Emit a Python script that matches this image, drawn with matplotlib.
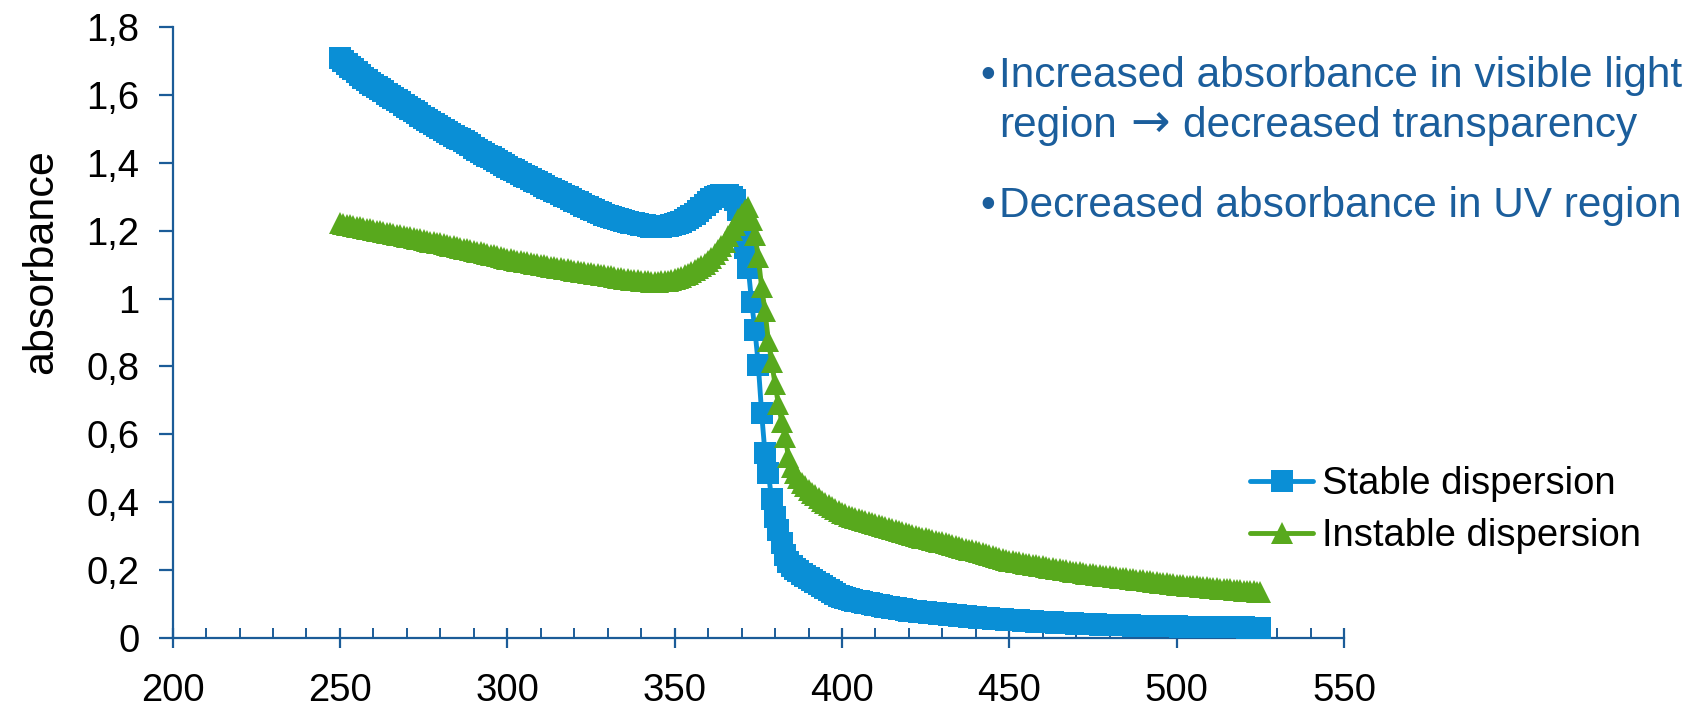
import numpy as np
import matplotlib
matplotlib.use("Agg")
import matplotlib.pyplot as plt
from matplotlib.ticker import MultipleLocator, FixedLocator

plt.rcParams['font.family'] = ['Liberation Sans', 'DejaVu Sans']

# ---------------- data ----------------
wavelength = np.arange(250, 526)  # nm, 1 nm steps

stable = [
    1.708, 1.700, 1.692, 1.683, 1.675, 1.667, 1.659, 1.651, 1.643, 1.636,
    1.629, 1.623, 1.616, 1.610, 1.603, 1.597, 1.590, 1.584, 1.578, 1.571,
    1.565, 1.558, 1.552, 1.546, 1.539, 1.533, 1.527, 1.520, 1.514, 1.508,
    1.503, 1.497, 1.491, 1.486, 1.480, 1.474, 1.469, 1.463, 1.457, 1.451,
    1.445, 1.439, 1.433, 1.427, 1.421, 1.416, 1.410, 1.404, 1.398, 1.393,
    1.388, 1.383, 1.378, 1.372, 1.367, 1.362, 1.357, 1.352, 1.347, 1.342,
    1.337, 1.332, 1.327, 1.322, 1.317, 1.313, 1.308, 1.303, 1.298, 1.293,
    1.288, 1.284, 1.279, 1.274, 1.270, 1.265, 1.260, 1.256, 1.251, 1.247,
    1.243, 1.240, 1.237, 1.234, 1.231, 1.229, 1.226, 1.224, 1.222, 1.220,
    1.218, 1.216, 1.214, 1.212, 1.211, 1.211, 1.212, 1.213, 1.215, 1.217,
    1.220, 1.223, 1.226, 1.230, 1.236, 1.243, 1.250, 1.258, 1.266, 1.276,
    1.285, 1.293, 1.299, 1.303, 1.305, 1.306, 1.304, 1.299, 1.289, 1.260,
    1.205, 1.150, 1.090, 0.990, 0.907, 0.805, 0.662, 0.544, 0.485, 0.410,
    0.357, 0.318, 0.279, 0.245, 0.225, 0.213, 0.204, 0.196, 0.189, 0.182,
    0.176, 0.170, 0.164, 0.158, 0.152, 0.146, 0.140, 0.135, 0.130, 0.125,
    0.121, 0.117, 0.114, 0.112, 0.110, 0.108, 0.106, 0.104, 0.102, 0.100,
    0.098, 0.096, 0.094, 0.092, 0.090, 0.088, 0.087, 0.085, 0.084, 0.082,
    0.081, 0.080, 0.079, 0.078, 0.077, 0.076, 0.075, 0.074, 0.073, 0.072,
    0.071, 0.070, 0.069, 0.068, 0.067, 0.066, 0.065, 0.064, 0.063, 0.062,
    0.061, 0.060, 0.059, 0.059, 0.058, 0.057, 0.056, 0.055, 0.055, 0.054,
    0.053, 0.053, 0.052, 0.052, 0.051, 0.050, 0.050, 0.049, 0.048, 0.048,
    0.047, 0.047, 0.046, 0.046, 0.045, 0.045, 0.044, 0.044, 0.043, 0.043,
    0.042, 0.042, 0.041, 0.041, 0.041, 0.040, 0.040, 0.039, 0.039, 0.039,
    0.038, 0.038, 0.038, 0.037, 0.037, 0.037, 0.037, 0.036, 0.036, 0.036,
    0.036, 0.035, 0.035, 0.035, 0.035, 0.035, 0.034, 0.034, 0.034, 0.034,
    0.034, 0.033, 0.033, 0.033, 0.033, 0.033, 0.033, 0.032, 0.032, 0.032,
    0.032, 0.032, 0.032, 0.031, 0.031, 0.031, 0.031, 0.031, 0.031, 0.031,
    0.031, 0.030, 0.030, 0.030, 0.030, 0.030,
]

instable = [
    1.222, 1.220, 1.218, 1.216, 1.214, 1.212, 1.210, 1.208, 1.206, 1.204,
    1.202, 1.200, 1.198, 1.196, 1.194, 1.192, 1.190, 1.188, 1.186, 1.184,
    1.182, 1.180, 1.178, 1.176, 1.174, 1.172, 1.170, 1.168, 1.166, 1.165,
    1.163, 1.161, 1.158, 1.156, 1.154, 1.152, 1.149, 1.147, 1.145, 1.142,
    1.140, 1.138, 1.136, 1.133, 1.131, 1.129, 1.127, 1.125, 1.122, 1.120,
    1.118, 1.116, 1.114, 1.112, 1.110, 1.109, 1.107, 1.105, 1.103, 1.101,
    1.100, 1.098, 1.096, 1.094, 1.093, 1.091, 1.089, 1.087, 1.086, 1.084,
    1.082, 1.080, 1.079, 1.077, 1.076, 1.074, 1.072, 1.071, 1.069, 1.068,
    1.066, 1.065, 1.063, 1.062, 1.060, 1.059, 1.058, 1.056, 1.055, 1.054,
    1.052, 1.051, 1.051, 1.050, 1.050, 1.050, 1.051, 1.052, 1.053, 1.055,
    1.058, 1.061, 1.064, 1.068, 1.072, 1.077, 1.083, 1.089, 1.096, 1.102,
    1.110, 1.120, 1.131, 1.143, 1.155, 1.168, 1.185, 1.202, 1.218, 1.234,
    1.248, 1.260, 1.271, 1.232, 1.186, 1.121, 1.033, 0.964, 0.876, 0.812,
    0.748, 0.689, 0.637, 0.593, 0.534, 0.505, 0.485, 0.470, 0.458, 0.447,
    0.437, 0.428, 0.420, 0.412, 0.405, 0.398, 0.391, 0.385, 0.379, 0.373,
    0.367, 0.364, 0.360, 0.357, 0.354, 0.351, 0.347, 0.344, 0.341, 0.338,
    0.335, 0.332, 0.329, 0.326, 0.323, 0.320, 0.317, 0.315, 0.312, 0.309,
    0.306, 0.304, 0.301, 0.299, 0.296, 0.294, 0.291, 0.289, 0.286, 0.284,
    0.282, 0.279, 0.276, 0.274, 0.271, 0.268, 0.266, 0.263, 0.260, 0.258,
    0.255, 0.252, 0.249, 0.247, 0.244, 0.241, 0.239, 0.236, 0.233, 0.231,
    0.228, 0.226, 0.224, 0.223, 0.221, 0.219, 0.218, 0.216, 0.214, 0.212,
    0.211, 0.209, 0.207, 0.206, 0.204, 0.202, 0.201, 0.199, 0.197, 0.195,
    0.194, 0.193, 0.191, 0.190, 0.189, 0.188, 0.187, 0.185, 0.184, 0.183,
    0.182, 0.181, 0.179, 0.178, 0.177, 0.176, 0.175, 0.173, 0.172, 0.171,
    0.170, 0.169, 0.167, 0.166, 0.165, 0.163, 0.162, 0.161, 0.160, 0.158,
    0.157, 0.156, 0.155, 0.154, 0.153, 0.153, 0.152, 0.151, 0.150, 0.149,
    0.148, 0.147, 0.146, 0.145, 0.145, 0.144, 0.143, 0.142, 0.141, 0.140,
    0.139, 0.138, 0.138, 0.137, 0.136, 0.135,
]

series_labels = ["Stable dispersion", "Instable dispersion"]
x_ticks = [200, 250, 300, 350, 400, 450, 500, 550]
y_ticks = [0, 0.2, 0.4, 0.6, 0.8, 1.0, 1.2, 1.4, 1.6, 1.8]
y_ticklabels = ["0", "0,2", "0,4", "0,6", "0,8", "1", "1,2", "1,4", "1,6", "1,8"]
y_label = "absorbance"
note1 = "Increased absorbance in visible light"
note2_a = "region"
note2_arrow = "\u2192"
note2_b = "decreased transparency"
note3 = "Decreased absorbance in UV region"

# ---------------- style ----------------
W, H = 1702, 712
BLUE = '#0A8FD6'
GREEN = '#58A91D'
AXC = '#1B5C98'
TXT = '#1B5E9C'

fig = plt.figure(figsize=(W / 100, H / 100), dpi=100)
ax = fig.add_axes([172.6 / W, 1 - 638 / H, (1344 - 172.6) / W, (638 - 27) / H])

l1, = ax.plot(wavelength, stable, color=BLUE, lw=3.5, marker='s', ms=15.5,
              mew=0, solid_capstyle='round', label=series_labels[0], zorder=3)
l2, = ax.plot(wavelength, instable, color=GREEN, lw=3.5, marker='^', ms=16.5,
              mew=0, solid_capstyle='round', label=series_labels[1], zorder=4)

ax.set_xlim(200, 550)
ax.set_ylim(0, 1.8)

for s in ['top', 'right']:
    ax.spines[s].set_visible(False)
for s in ['left', 'bottom']:
    ax.spines[s].set_color(AXC)
    ax.spines[s].set_linewidth(1.6)

ax.xaxis.set_major_locator(FixedLocator(x_ticks))
ax.xaxis.set_minor_locator(MultipleLocator(10))
ax.set_xticklabels([str(v) for v in x_ticks])
ax.yaxis.set_major_locator(FixedLocator(y_ticks))
ax.set_yticklabels(y_ticklabels)

ax.tick_params(axis='x', which='major', direction='inout', length=15, width=1.6,
               color=AXC, labelsize=27.5, pad=18)
ax.tick_params(axis='x', which='minor', direction='in', length=7, width=1.4,
               color=AXC)
ax.tick_params(axis='y', which='major', direction='out', length=10, width=1.6,
               color=AXC, labelsize=27.5, pad=14)

fig.text(41 / W, 1 - 262 / H, y_label, rotation=90, ha='center', va='center',
         fontsize=31)

ax.legend(handles=[l1, l2], loc='upper left',
          bbox_to_anchor=(1250 / W, 1 - 466 / H), bbox_transform=fig.transFigure,
          frameon=False, borderpad=0, borderaxespad=0, handlelength=1.65,
          handletextpad=0.24, labelspacing=0.42, fontsize=27.5, numpoints=1)

# annotation bullets
fs_note = 30.5
fig.text(980 / W, 1 - 86.8 / H, "\u2022", color=TXT, fontsize=fs_note, va='baseline')
fig.text(998.7 / W, 1 - 86.8 / H, note1, color=TXT, fontsize=fs_note, va='baseline')
fig.text(980 / W, 1 - 217 / H, "\u2022", color=TXT, fontsize=fs_note, va='baseline')
fig.text(998.7 / W, 1 - 217 / H, note3, color=TXT, fontsize=fs_note, va='baseline')

# second line: "region → decreased transparency" with a wider arrow glyph
renderer = fig.canvas.get_renderer()
t_a = fig.text(998.7 / W, 1 - 137 / H, note2_a, color=TXT, fontsize=fs_note,
               va='baseline')
xa = t_a.get_window_extent(renderer).x1
t_arr = fig.text((xa + 14) / W, 1 - 137 / H, note2_arrow, color=TXT, fontsize=34,
                 va='baseline', family=['DejaVu Sans'])
xb = t_arr.get_window_extent(renderer).x1
fig.text((xb + 13) / W, 1 - 137 / H, note2_b, color=TXT, fontsize=fs_note,
         va='baseline')

fig.savefig("out.png", dpi=100)
